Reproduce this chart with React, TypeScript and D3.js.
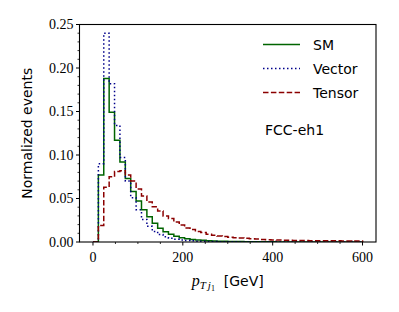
import React from "react";
import * as d3 from "d3";

const binEdges: number[] = d3.range(0, 612, 12);

const smValues: number[] = [
  0, 0.077, 0.188, 0.149, 0.117, 0.092, 0.073, 0.058, 0.047, 0.037,
  0.029, 0.0215, 0.0157, 0.0118, 0.0088, 0.0065, 0.005, 0.0038, 0.003, 0.0024,
  0.0019, 0.0015, 0.0012, 0.001, 0.0008, 0.0007, 0.0006, 0.0005, 0.0004, 0.0003,
  0.0003, 0.0002, 0.0002, 0.0002, 0.0001, 0.0001, 0.0001, 0.0001, 0.0001, 0.0001,
  0.00005, 0.00005, 0.00005, 0.00005, 0.00005, 0.00005, 0.00005, 0.00005, 0.00005, 0.00005,
];

const vectorValues: number[] = [
  0, 0.09, 0.24, 0.182, 0.134, 0.097, 0.07, 0.051, 0.037, 0.026,
  0.018, 0.012, 0.0085, 0.006, 0.0043, 0.0032, 0.0024, 0.0018, 0.0013, 0.001,
  0.0008, 0.0006, 0.0005, 0.0004, 0.0003, 0.0002, 0.0002, 0.0001, 0.0001, 0.0001,
  0.0001, 0.00005, 0.00005, 0.00005, 0.00005, 0.00005, 0.00005, 0.00005, 0.00005, 0.00005,
  0.00005, 0.00005, 0.00005, 0.00005, 0.00005, 0.00005, 0.00005, 0.00005, 0.00005, 0.00005,
];

const tensorValues: number[] = [
  0, 0.019, 0.063, 0.075, 0.081, 0.082, 0.077, 0.07, 0.061, 0.053,
  0.046, 0.0405, 0.0356, 0.03, 0.027, 0.023, 0.0195, 0.016, 0.0145, 0.012,
  0.011, 0.009, 0.0078, 0.0068, 0.0062, 0.0055, 0.005, 0.0046, 0.0042, 0.0038,
  0.0034, 0.003, 0.0027, 0.0024, 0.0022, 0.002, 0.0019, 0.0018, 0.0017, 0.0016,
  0.0015, 0.0015, 0.0014, 0.0014, 0.0013, 0.0013, 0.0012, 0.0012, 0.0011, 0.0011,
];

const seriesNames = ["SM", "Vector", "Tensor"];
const seriesColors = ["#006400", "#00008b", "#8b0000"];
const seriesDash = ["none", "1.5 2.5", "5.5 2.4"];

const xMajorTicks = [0, 200, 400, 600];
const yMajorTicks = [0, 0.05, 0.1, 0.15, 0.2, 0.25];
const yTickLabels = ["0.00", "0.05", "0.10", "0.15", "0.20", "0.25"];

const W = 399;
const H = 312;
const L = 79.5;
const R = 376;
const T = 24.5;
const B = 242;

export default function App() {
  const x = d3.scaleLinear().domain([-30, 630]).range([L, R]);
  const y = d3.scaleLinear().domain([0, 0.25]).range([B, T]);
  const xMinor = d3.range(0, 650, 50).filter((v) => v % 200 !== 0 && v <= 630);
  const yMinor = d3.range(0, 26, 1).map((v) => v / 100).filter((v, i) => i % 5 !== 0);

  const line = d3
    .line<[number, number]>()
    .x((d) => x(d[0]))
    .y((d) => y(d[1]));

  const stepPoints = (vals: number[]): [number, number][] => {
    const pts: [number, number][] = [[binEdges[0], 0]];
    vals.forEach((v, i) => {
      pts.push([binEdges[i], v]);
      pts.push([binEdges[i + 1], v]);
    });
    pts.push([binEdges[binEdges.length - 1], 0]);
    return pts;
  };

  const allSeries = [smValues, vectorValues, tensorValues];
  const serif = "'Liberation Serif', 'DejaVu Serif', serif";
  const sans = "'DejaVu Sans', sans-serif";

  return (
    <svg
      width={W}
      height={H}
      style={{ position: "absolute", left: 0, top: 0, background: "#fff" }}
    >
      <rect x={0} y={0} width={W} height={H} fill="#fff" />
      <defs>
        <clipPath id="plotclip">
          <rect x={L} y={T} width={R - L} height={B - T} />
        </clipPath>
      </defs>
      <g clipPath="url(#plotclip)">
        {allSeries.map((vals, i) => (
          <path
            key={seriesNames[i]}
            d={line(stepPoints(vals)) || ""}
            fill="none"
            stroke={seriesColors[i]}
            strokeWidth={1.5}
            strokeDasharray={seriesDash[i]}
            strokeLinejoin="miter"
          />
        ))}
      </g>
      <rect x={L} y={T} width={R - L} height={B - T} fill="none" stroke="#000" strokeWidth={1.1} />
      {xMajorTicks.map((t) => (
        <g key={"xt" + t}>
          <line x1={x(t)} x2={x(t)} y1={B} y2={B + 3.5} stroke="#000" strokeWidth={1} />
          <text x={x(t)} y={262} textAnchor="middle" fontFamily={serif} fontSize={14}>
            {t}
          </text>
        </g>
      ))}
      {xMinor.map((t) => (
        <line key={"xm" + t} x1={x(t)} x2={x(t)} y1={B} y2={B + 2} stroke="#000" strokeWidth={0.8} />
      ))}
      {yMajorTicks.map((t, i) => (
        <g key={"yt" + t}>
          <line x1={L - 3.5} x2={L} y1={y(t)} y2={y(t)} stroke="#000" strokeWidth={1} />
          <text x={L - 6} y={y(t) + 4.5} textAnchor="end" fontFamily={serif} fontSize={14}>
            {yTickLabels[i]}
          </text>
        </g>
      ))}
      {yMinor.map((t) => (
        <line key={"ym" + t} x1={L - 2} x2={L} y1={y(t)} y2={y(t)} stroke="#000" strokeWidth={0.8} />
      ))}
      <text
        transform={`translate(27,${(T + B) / 2}) rotate(-90)`}
        textAnchor="middle"
        dominantBaseline="central"
        fontFamily={sans}
        fontSize={14}
      >
        Normalized events
      </text>
      <text x={(L + R) / 2} y={286} textAnchor="middle" fontSize={14}>
        <tspan fontFamily={serif} fontStyle="italic" fontSize={16}>p</tspan>
        <tspan fontFamily={serif} fontStyle="italic" fontSize={11} dy={3}>T</tspan>
        <tspan fontFamily={serif} fontStyle="italic" fontSize={11} dx={2}>j</tspan>
        <tspan fontFamily={serif} fontSize={8} dy={2}>1</tspan>
        <tspan fontFamily={sans} fontSize={14} dy={-5}>{"\u00a0\u00a0[GeV]"}</tspan>
      </text>
      {seriesNames.map((n, i) => {
        const ly = 44.5 + i * 24;
        return (
          <g key={"lg" + n}>
            <line
              x1={263}
              x2={300}
              y1={ly}
              y2={ly}
              stroke={seriesColors[i]}
              strokeWidth={1.5}
              strokeDasharray={seriesDash[i]}
            />
            <text x={313} y={ly + 5} fontFamily={sans} fontSize={14}>
              {n}
            </text>
          </g>
        );
      })}
      <text x={265} y={135} fontFamily={sans} fontSize={14}>
        FCC-eh1
      </text>
    </svg>
  );
}
